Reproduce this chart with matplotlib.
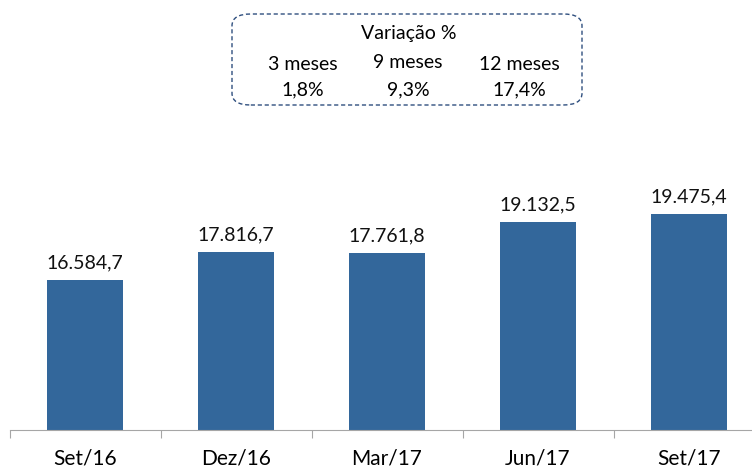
import matplotlib
matplotlib.use("Agg")
from matplotlib import pyplot as plt
from matplotlib.patches import FancyBboxPatch

# Data
periods = ["Set/16", "Dez/16", "Mar/17", "Jun/17", "Set/17"]
values = [16584.7, 17816.7, 17761.8, 19132.5, 19475.4]
value_labels = ["16.584,7", "17.816,7", "17.761,8", "19.132,5", "19.475,4"]

var_titles = ["3 meses", "9 meses", "12 meses"]
var_values = ["1,8%", "9,3%", "17,4%"]

plt.rcParams["font.family"] = ["Lato", "DejaVu Sans"]

W, H = 752, 470
fig = plt.figure(figsize=(W / 100, H / 100), dpi=100)

# axes spans a bit beyond right edge like the original
ax_left, ax_right = 9.5, 764.5
ax_bottom, ax_top = 429.5, 199.5
ax = fig.add_axes([ax_left / W, 1 - ax_bottom / H,
                   (ax_right - ax_left) / W, (ax_bottom - ax_top) / H])

ymin = 10000
scale = 43.97  # value units per pixel
ax.set_ylim(ymin, ymin + scale * (ax_bottom - ax_top))
ax.set_xlim(-0.5, len(periods) - 0.5)

x = range(len(periods))
bars = ax.bar(x, values, width=0.5, color="#33679B", bottom=0)
for xi, v, lab in zip(x, values, value_labels):
    ax.annotate(lab, (xi, v), xytext=(0, 6), textcoords="offset points",
                ha="center", va="bottom", fontsize=14, color="#111111")

for s in ["top", "right", "left"]:
    ax.spines[s].set_visible(False)
ax.spines["bottom"].set_color("#A6A6A6")
ax.set_yticks([])
ax.set_xticks([i - 0.5 for i in range(len(periods) + 1)], minor=False)
ax.set_xticklabels([""] * (len(periods) + 1))
ax.tick_params(axis="x", length=6, color="#A6A6A6", direction="out")
ax.set_xticks(list(x), minor=True)
ax.set_xticklabels(periods, minor=True, fontsize=15)
ax.tick_params(axis="x", which="minor", length=0, pad=14)

# Variation box
box = FancyBboxPatch((232 / W, 1 - 105 / H), 350 / W, 91 / H,
                     boxstyle="round,pad=0,rounding_size=0.025",
                     transform=fig.transFigure, fill=False,
                     edgecolor="#2F4F7F", linestyle=(0, (3, 2)), linewidth=1.0)
fig.patches.append(box)
fig.text(409 / W, 1 - 33 / H, "Variação %", ha="center", va="center", fontsize=14)
cols = [303, 408, 519]
title_y = [65, 63, 65]
for cx, ty, t, v in zip(cols, title_y, var_titles, var_values):
    fig.text(cx / W, 1 - ty / H, t, ha="center", va="center", fontsize=14)
    fig.text(cx / W, 1 - 90 / H, v, ha="center", va="center", fontsize=14)

plt.savefig("out.png", dpi=100)
